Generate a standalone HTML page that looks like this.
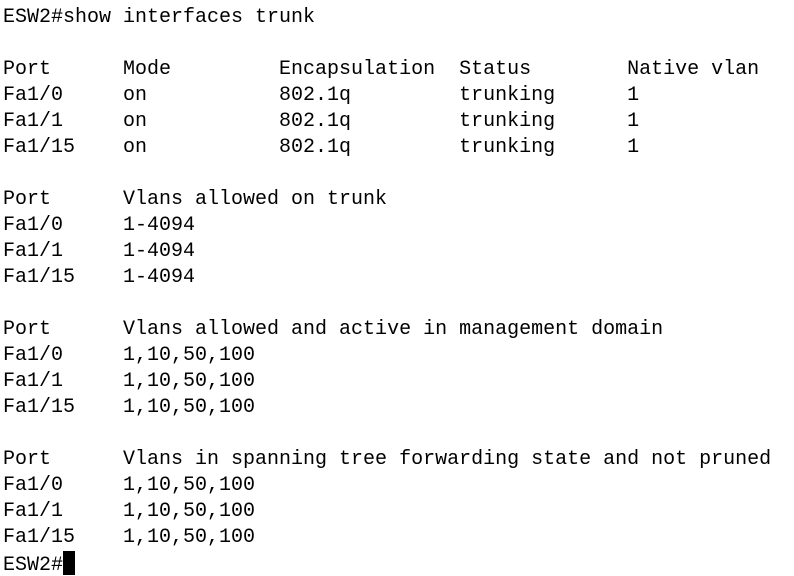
<!DOCTYPE html>
<html><head><meta charset="utf-8"><style>
html,body{margin:0;padding:0;background:#fff;width:794px;height:576px;overflow:hidden}
pre{margin:0;padding:5px 0 0 3px;font-family:"Liberation Mono",monospace;font-size:20px;line-height:26px;color:#000}
.cur{display:inline-block;width:12px;height:24px;background:#000;vertical-align:-5px}
</style></head><body><pre>ESW2#show interfaces trunk

Port      Mode         Encapsulation  Status        Native vlan
Fa1/0     on           802.1q         trunking      1
Fa1/1     on           802.1q         trunking      1
Fa1/15    on           802.1q         trunking      1

Port      Vlans allowed on trunk
Fa1/0     1-4094
Fa1/1     1-4094
Fa1/15    1-4094

Port      Vlans allowed and active in management domain
Fa1/0     1,10,50,100
Fa1/1     1,10,50,100
Fa1/15    1,10,50,100

Port      Vlans in spanning tree forwarding state and not pruned
Fa1/0     1,10,50,100
Fa1/1     1,10,50,100
Fa1/15    1,10,50,100
ESW2#<span class="cur"></span></pre></body></html>
